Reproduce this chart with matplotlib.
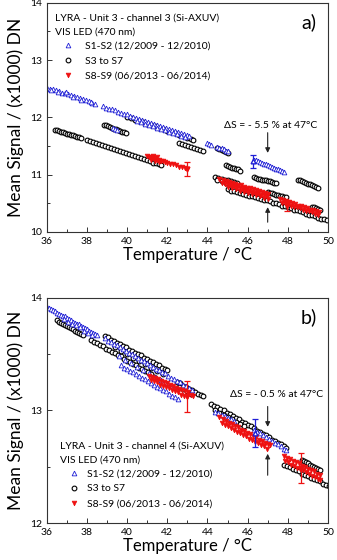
import numpy as np
import matplotlib
matplotlib.use("Agg")
import matplotlib.pyplot as plt
from matplotlib.ticker import MultipleLocator

plt.rcParams['font.family'] = ['Lato', 'DejaVu Sans']

# ---- panel a) channel 3 : (temperature, mean signal / 1000 DN) ----
a_s12 = [(36.00, 12.52), (36.15, 12.50), (36.30, 12.49), (36.45, 12.47), (36.60, 12.46), (36.75, 12.43),
         (36.90, 12.42), (37.05, 12.40), (37.20, 12.39), (37.35, 12.37), (37.50, 12.35), (37.65, 12.34),
         (37.80, 12.32), (37.95, 12.30), (38.10, 12.28), (38.25, 12.25), (38.40, 12.23),
         (36.20, 12.47), (36.55, 12.44), (36.95, 12.44), (37.30, 12.35), (37.70, 12.31), (38.20, 12.27),
         (38.80, 12.19), (38.95, 12.17), (39.10, 12.15), (39.25, 12.14), (39.40, 12.12), (39.55, 12.10),
         (39.70, 12.08), (39.85, 12.06), (40.00, 12.05), (40.15, 12.03), (40.30, 12.01), (40.45, 11.99),
         (40.60, 11.97), (40.75, 11.96), (40.90, 11.94), (41.05, 11.92), (41.20, 11.90), (41.35, 11.88),
         (41.50, 11.87), (41.65, 11.85), (41.80, 11.83), (41.95, 11.81), (42.10, 11.79), (42.25, 11.78),
         (42.40, 11.76), (42.55, 11.74), (42.70, 11.72), (42.85, 11.70), (43.00, 11.69), (43.10, 11.67),
         (40.50, 11.94), (40.70, 11.91), (40.90, 11.89), (41.10, 11.86), (41.30, 11.84), (41.50, 11.82),
         (41.70, 11.79), (41.90, 11.77), (42.10, 11.74), (42.30, 11.72), (42.50, 11.70), (42.70, 11.67),
         (42.90, 11.65),
         (39.30, 11.81), (39.40, 11.79), (39.50, 11.78),
         (44.00, 11.55), (44.10, 11.54), (44.20, 11.52), (44.50, 11.49), (44.60, 11.47), (44.70, 11.46),
         (44.80, 11.44), (44.90, 11.42), (45.00, 11.41),
         (46.30, 11.26), (46.40, 11.25), (46.50, 11.23), (46.60, 11.22), (46.70, 11.20), (46.80, 11.19),
         (46.90, 11.18), (47.00, 11.16), (47.10, 11.15), (47.20, 11.13), (47.30, 11.12), (47.40, 11.10),
         (47.50, 11.09), (47.60, 11.08), (47.70, 11.06), (47.80, 11.05)]

a_s37 = [(36.40, 11.78), (36.50, 11.77), (36.60, 11.76), (36.70, 11.75), (36.80, 11.74), (36.90, 11.73),
         (37.00, 11.71), (37.10, 11.71), (37.20, 11.69), (37.30, 11.69), (37.40, 11.67), (37.50, 11.66),
         (37.60, 11.66), (37.70, 11.64),
         (38.00, 11.61), (38.15, 11.59), (38.30, 11.57), (38.45, 11.56), (38.60, 11.54), (38.75, 11.52),
         (38.90, 11.50), (39.05, 11.49), (39.20, 11.47), (39.35, 11.45), (39.50, 11.43), (39.65, 11.41),
         (39.80, 11.39), (39.95, 11.38), (40.10, 11.36), (40.25, 11.34), (40.40, 11.32), (40.55, 11.31),
         (40.70, 11.29), (40.85, 11.27), (41.00, 11.25), (41.15, 11.23), (41.30, 11.21), (41.45, 11.20),
         (41.60, 11.18), (41.70, 11.17),
         (38.85, 11.87), (38.95, 11.86), (39.05, 11.84), (39.15, 11.83), (39.25, 11.82), (39.35, 11.80),
         (39.45, 11.79), (39.55, 11.78), (39.65, 11.76), (39.75, 11.75), (39.85, 11.74), (39.95, 11.73),
         (40.00, 12.01), (40.20, 11.98), (40.40, 11.96), (40.60, 11.93), (40.80, 11.91), (41.00, 11.89),
         (41.20, 11.86), (41.40, 11.84), (41.60, 11.81), (41.80, 11.79), (42.00, 11.76), (42.20, 11.74),
         (42.40, 11.72), (42.60, 11.69), (42.80, 11.67), (43.00, 11.64), (43.20, 11.62), (43.30, 11.61),
         (42.60, 11.56), (42.75, 11.54), (42.90, 11.52), (43.05, 11.50), (43.20, 11.48), (43.35, 11.46),
         (43.50, 11.44), (43.65, 11.43), (43.80, 11.41),
         (44.50, 11.46), (44.60, 11.44), (44.70, 11.43), (44.80, 11.41), (44.90, 11.39), (45.00, 11.38),
         (44.90, 11.16), (45.00, 11.15), (45.10, 11.14), (45.20, 11.12), (45.30, 11.11), (45.40, 11.10),
         (45.50, 11.09), (45.60, 11.07),
         (44.40, 10.96), (44.55, 10.94), (44.70, 10.93), (44.85, 10.91), (45.00, 10.90), (45.15, 10.88),
         (45.30, 10.87), (45.45, 10.85), (44.50, 10.90), (44.70, 10.88), (44.90, 10.86), (45.10, 10.84),
         (46.30, 10.95), (46.40, 10.94), (46.50, 10.93), (46.60, 10.92), (46.70, 10.91), (46.80, 10.91),
         (46.90, 10.90), (47.00, 10.89), (47.10, 10.88), (47.20, 10.87), (47.30, 10.86), (47.40, 10.85),
         (48.50, 10.91), (48.60, 10.90), (48.70, 10.88), (48.80, 10.87), (48.90, 10.85), (49.00, 10.84),
         (49.10, 10.83), (49.20, 10.81), (49.30, 10.80), (49.40, 10.78), (49.50, 10.77),
         (47.00, 10.69), (47.10, 10.68), (47.20, 10.67), (47.30, 10.66), (47.40, 10.65), (47.50, 10.64),
         (47.60, 10.63), (47.70, 10.62), (47.80, 10.61), (47.90, 10.60),
         (49.20, 10.44), (49.30, 10.43), (49.40, 10.41), (49.50, 10.40), (49.60, 10.38),
         (45.00, 10.74), (45.15, 10.72), (45.30, 10.71), (45.45, 10.69), (45.60, 10.68), (45.75, 10.66),
         (45.90, 10.65), (46.05, 10.63), (46.20, 10.62), (46.35, 10.60), (46.50, 10.59), (46.65, 10.58),
         (46.80, 10.56), (46.95, 10.55), (47.10, 10.53), (47.25, 10.51), (47.40, 10.50), (47.55, 10.48),
         (47.70, 10.46), (47.85, 10.45), (48.00, 10.43), (48.15, 10.41), (48.30, 10.39), (48.45, 10.38),
         (48.60, 10.36), (48.75, 10.34), (48.90, 10.32), (49.05, 10.30), (49.20, 10.29), (49.35, 10.27),
         (49.50, 10.25), (49.65, 10.23), (49.80, 10.22), (49.95, 10.20)]

a_s89 = [(41.00, 11.32), (41.10, 11.31), (41.20, 11.30), (41.30, 11.29), (41.40, 11.28), (41.50, 11.26),
         (41.60, 11.25), (41.70, 11.24), (41.80, 11.23), (41.90, 11.22), (42.00, 11.21), (42.15, 11.19),
         (42.30, 11.18), (42.45, 11.16), (42.60, 11.14), (42.75, 11.13), (42.90, 11.11), (43.00, 11.10),
         (41.20, 11.26), (41.40, 11.24), (41.60, 11.22), (41.30, 11.33), (41.50, 11.30),
         (44.60, 10.92), (44.75, 10.90), (44.90, 10.89), (45.05, 10.87), (45.20, 10.86), (45.35, 10.84),
         (45.50, 10.82), (45.65, 10.81), (45.80, 10.79), (45.95, 10.77), (46.10, 10.76), (46.25, 10.74),
         (46.40, 10.73), (46.55, 10.71), (46.70, 10.69), (46.85, 10.68), (47.00, 10.66),
         (44.70, 10.86), (44.85, 10.84), (45.00, 10.83), (45.15, 10.81), (45.30, 10.80), (45.45, 10.78),
         (45.60, 10.76), (45.75, 10.75), (45.90, 10.73), (46.05, 10.72), (46.20, 10.70), (46.35, 10.68),
         (46.50, 10.67), (46.65, 10.65), (46.80, 10.64), (46.95, 10.62),
         (45.00, 10.79), (45.20, 10.77), (45.40, 10.75), (45.60, 10.72), (45.80, 10.70), (46.00, 10.68),
         (46.20, 10.66), (46.40, 10.64), (46.60, 10.62), (46.80, 10.59), (47.00, 10.57),
         (47.60, 10.57), (47.75, 10.55), (47.90, 10.54), (48.05, 10.52), (48.20, 10.50), (48.35, 10.48),
         (48.50, 10.46), (48.65, 10.45), (48.80, 10.43), (48.95, 10.41), (49.10, 10.39), (49.25, 10.38),
         (49.40, 10.36), (49.55, 10.34),
         (47.70, 10.51), (47.85, 10.50), (48.00, 10.48), (48.15, 10.46), (48.30, 10.44), (48.45, 10.43),
         (48.60, 10.41), (48.75, 10.39), (48.90, 10.37), (49.05, 10.36), (49.20, 10.34), (49.35, 10.32),
         (49.50, 10.30)]

# error bars (T, S, half-width)
a_err_s12 = [(46.28, 11.23, 0.11)]
a_err_s89 = [(42.96, 11.10, 0.12), (47.94, 10.46, 0.10)]

# ---- panel b) channel 4 ----
b_s12 = [(36.00, 13.92), (36.10, 13.91), (36.20, 13.90), (36.30, 13.89), (36.40, 13.88), (36.50, 13.87),
         (36.60, 13.86), (36.70, 13.85), (36.80, 13.84), (36.90, 13.84), (37.00, 13.82), (37.10, 13.81),
         (37.20, 13.80), (37.30, 13.79), (37.40, 13.78), (37.50, 13.77), (37.60, 13.77), (37.70, 13.75),
         (37.80, 13.74), (37.90, 13.73), (38.00, 13.72), (38.10, 13.71), (38.20, 13.70), (38.30, 13.69),
         (38.40, 13.68), (38.50, 13.67),
         (36.85, 13.81), (37.05, 13.79), (37.25, 13.77), (37.45, 13.76), (37.65, 13.74), (37.85, 13.71),
         (38.05, 13.69), (38.25, 13.67),
         (38.90, 13.64), (39.05, 13.62), (39.20, 13.61), (39.35, 13.59), (39.50, 13.58), (39.65, 13.56),
         (39.80, 13.55), (39.95, 13.53), (40.10, 13.51), (40.25, 13.50), (40.40, 13.48), (40.55, 13.47),
         (40.70, 13.45), (40.85, 13.44), (41.00, 13.42), (41.15, 13.40), (41.30, 13.39), (41.45, 13.37),
         (41.60, 13.36), (41.75, 13.34), (41.90, 13.33), (42.05, 13.31), (42.20, 13.29), (42.35, 13.28),
         (42.50, 13.26), (42.65, 13.25), (42.80, 13.23), (42.95, 13.22), (43.10, 13.20), (43.25, 13.18),
         (39.70, 13.40), (39.85, 13.38), (40.00, 13.37), (40.15, 13.35), (40.30, 13.34), (40.45, 13.32),
         (40.60, 13.31), (40.75, 13.29), (40.90, 13.28), (41.05, 13.26), (41.20, 13.24), (41.35, 13.23),
         (41.50, 13.21), (41.65, 13.20), (41.80, 13.18), (41.95, 13.17), (42.10, 13.15), (42.25, 13.13),
         (42.40, 13.12), (42.55, 13.10),
         (39.60, 13.48), (39.90, 13.45), (40.20, 13.42), (40.50, 13.39), (40.80, 13.36), (41.10, 13.33),
         (41.40, 13.30), (41.70, 13.27), (42.00, 13.24), (42.30, 13.21),
         (44.40, 12.99), (44.55, 12.98), (44.70, 12.96), (44.85, 12.95), (45.00, 12.93), (45.15, 12.92),
         (45.30, 12.91),
         (46.30, 12.83), (46.45, 12.81), (46.60, 12.80), (46.75, 12.78), (46.90, 12.76), (47.05, 12.75),
         (47.20, 12.73), (47.35, 12.71), (47.50, 12.70), (47.65, 12.68), (47.80, 12.66), (47.90, 12.65)]

b_s37 = [(36.50, 13.80), (36.60, 13.79), (36.70, 13.78), (36.80, 13.77), (36.90, 13.76), (37.00, 13.75),
         (37.10, 13.74), (37.20, 13.73), (37.30, 13.72), (37.40, 13.71), (37.50, 13.70), (37.60, 13.69),
         (37.70, 13.68), (37.80, 13.67),
         (38.20, 13.63), (38.35, 13.61), (38.50, 13.60), (38.65, 13.58), (38.80, 13.57), (38.95, 13.55),
         (39.10, 13.54), (39.25, 13.52), (39.40, 13.51), (39.55, 13.49), (39.70, 13.48), (39.85, 13.46),
         (40.00, 13.44), (40.15, 13.43), (40.30, 13.41), (40.45, 13.40), (40.60, 13.38), (40.75, 13.37),
         (40.90, 13.35), (41.05, 13.34), (41.20, 13.32), (41.35, 13.30),
         (38.90, 13.66), (39.05, 13.65), (39.20, 13.63), (39.35, 13.62), (39.50, 13.60), (39.65, 13.59),
         (39.80, 13.57), (39.95, 13.56), (40.10, 13.54), (40.25, 13.53), (40.40, 13.51), (40.55, 13.50),
         (40.70, 13.49), (40.85, 13.47), (41.00, 13.46), (41.15, 13.44), (41.30, 13.43), (41.45, 13.41),
         (41.60, 13.40), (41.75, 13.38), (41.90, 13.37), (42.00, 13.36),
         (39.40, 13.56), (39.70, 13.53), (40.00, 13.50), (40.30, 13.47), (40.60, 13.44), (40.90, 13.41),
         (41.20, 13.38), (41.50, 13.35), (41.80, 13.32),
         (42.50, 13.25), (42.65, 13.24), (42.80, 13.22), (42.95, 13.21), (43.10, 13.19), (43.25, 13.18),
         (43.40, 13.16), (43.55, 13.15), (43.70, 13.14), (43.80, 13.13),
         (42.60, 13.21), (42.80, 13.19), (43.00, 13.17), (43.20, 13.15),
         (44.20, 13.06), (44.35, 13.04), (44.50, 13.03), (44.65, 13.01), (44.80, 13.00), (44.95, 12.98),
         (45.10, 12.97), (45.25, 12.95), (45.40, 12.93), (45.55, 12.92), (45.70, 12.90), (45.85, 12.89),
         (46.00, 12.87), (46.15, 12.86), (46.30, 12.84), (46.45, 12.82), (46.60, 12.81), (46.75, 12.79),
         (46.90, 12.78), (47.05, 12.76), (47.20, 12.74), (47.35, 12.73), (47.50, 12.71), (47.65, 12.70),
         (47.80, 12.68), (47.90, 12.67),
         (44.40, 13.00), (44.60, 12.98), (44.80, 12.96), (45.00, 12.94), (45.20, 12.92), (45.40, 12.90),
         (45.60, 12.88), (45.80, 12.86),
         (48.70, 12.56), (48.80, 12.55), (48.90, 12.54), (49.00, 12.53), (49.10, 12.52), (49.20, 12.51),
         (49.30, 12.50), (49.40, 12.49), (49.50, 12.48), (49.60, 12.47),
         (47.80, 12.52), (47.95, 12.51), (48.10, 12.50), (48.25, 12.48), (48.40, 12.47), (48.55, 12.46),
         (48.70, 12.44), (48.85, 12.43), (49.00, 12.42), (49.15, 12.40), (49.30, 12.39), (49.45, 12.38),
         (49.60, 12.37), (49.75, 12.35), (49.90, 12.34), (50.05, 12.33)]

b_s89 = [(41.10, 13.31), (41.25, 13.30), (41.40, 13.29), (41.55, 13.28), (41.70, 13.26), (41.85, 13.25),
         (42.00, 13.24), (42.15, 13.23), (42.30, 13.22), (42.45, 13.20), (42.60, 13.19), (42.75, 13.18),
         (42.90, 13.17), (43.05, 13.16), (43.20, 13.14), (43.30, 13.13),
         (41.20, 13.27), (41.35, 13.26), (41.50, 13.25), (41.65, 13.23), (41.80, 13.22), (41.95, 13.21),
         (42.10, 13.20), (42.25, 13.18), (42.40, 13.17), (42.55, 13.16), (42.70, 13.14), (42.85, 13.13),
         (43.00, 13.12),
         (44.60, 12.94), (44.75, 12.92), (44.90, 12.91), (45.05, 12.89), (45.20, 12.88), (45.35, 12.86),
         (45.50, 12.85), (45.65, 12.83), (45.80, 12.82), (45.95, 12.80), (46.10, 12.79), (46.25, 12.77),
         (46.40, 12.76), (46.55, 12.74), (46.70, 12.73), (46.85, 12.71), (47.00, 12.70), (47.10, 12.69),
         (44.70, 12.89), (44.85, 12.87), (45.00, 12.86), (45.15, 12.84), (45.30, 12.83), (45.45, 12.81),
         (45.60, 12.80), (45.75, 12.78), (45.90, 12.77), (46.05, 12.75), (46.20, 12.74), (46.35, 12.72),
         (46.50, 12.71), (46.65, 12.69), (46.80, 12.68), (46.95, 12.66),
         (47.80, 12.60), (47.95, 12.58), (48.10, 12.57), (48.25, 12.55), (48.40, 12.54), (48.55, 12.53),
         (48.70, 12.51), (48.85, 12.50), (49.00, 12.48), (49.15, 12.47), (49.30, 12.46), (49.45, 12.44),
         (49.60, 12.43),
         (47.85, 12.55), (48.00, 12.54), (48.15, 12.52), (48.30, 12.51), (48.45, 12.49), (48.60, 12.48),
         (48.75, 12.47), (48.90, 12.45), (49.05, 12.44), (49.20, 12.42), (49.35, 12.41), (49.50, 12.39),
         (49.60, 12.38)]

b_err_s12 = [(46.35, 12.80, 0.125)]
b_err_s89 = [(42.96, 13.125, 0.135), (48.68, 12.49, 0.13)]

labels = ["S1-S2 (12/2009 - 12/2010)", "S3 to S7", "S8-S9 (06/2013 - 06/2014)"]
BLUE, BLACK, RED = "#1f1fd6", "black", "#ee1111"


def draw_panel(ax, s12, s37, s89, err12, err89, ylim, tag, note, note_xy, arr_top, arr_bot):
    p37 = np.array(s37).T
    p12 = np.array(s12).T
    p89 = np.array(s89).T
    h2, = ax.plot(p37[0], p37[1], 'o', ms=3.4, mfc='white', mec=BLACK, mew=0.8, ls='none')
    h1, = ax.plot(p12[0], p12[1], '^', ms=3.4, mfc='white', mec=BLUE, mew=0.6, ls='none')
    h3, = ax.plot(p89[0], p89[1], 'v', ms=3.4, mfc=RED, mec=RED, mew=0.5, ls='none')
    for t, s, e in err12:
        ax.errorbar(t, s, yerr=e, fmt='^', ms=3.4, mfc='white', mec=BLUE, ecolor=BLUE,
                    elinewidth=0.9, capsize=2.5, capthick=0.9)
    for t, s, e in err89:
        ax.errorbar(t, s, yerr=e, fmt='v', ms=3.4, color=RED, ecolor=RED,
                    elinewidth=0.9, capsize=2.5, capthick=0.9)

    ax.set_xlim(36, 50)
    ax.set_ylim(*ylim)
    ax.xaxis.set_major_locator(MultipleLocator(2))
    ax.xaxis.set_minor_locator(MultipleLocator(1))
    ax.yaxis.set_major_locator(MultipleLocator(1))
    ax.yaxis.set_minor_locator(MultipleLocator(0.5))
    ax.tick_params(which='both', direction='in', labelsize=7.5, color='#333333', width=0.7)
    ax.tick_params(which='major', length=3.5)
    ax.tick_params(which='minor', length=2)
    for sp in ax.spines.values():
        sp.set_linewidth(0.8)
        sp.set_color('#333333')

    ax.set_xlabel("Temperature / °C", fontsize=12, labelpad=1)
    ax.set_ylabel("Mean Signal / (x1000) DN", fontsize=12.5, labelpad=4)

    ax.text(0.96, 0.915, tag, transform=ax.transAxes, fontsize=14, ha='right', va='center')
    ax.annotate("", xy=(47.0, arr_top[1]), xytext=(47.0, arr_top[0]),
                arrowprops=dict(arrowstyle='-|>', color='#222222', lw=0.8, mutation_scale=7))
    ax.annotate("", xy=(47.0, arr_bot[1]), xytext=(47.0, arr_bot[0]),
                arrowprops=dict(arrowstyle='-|>', color='#222222', lw=0.8, mutation_scale=7))
    ax.text(note_xy[0], note_xy[1], note, fontsize=7.5, ha='center', va='center')
    return h1, h2, h3


fig = plt.figure(figsize=(3.37, 5.6), dpi=100)
ax_a = fig.add_axes([0.139, 0.586, 0.834, 0.409])
ax_b = fig.add_axes([0.139, 0.066, 0.834, 0.402])

ha = draw_panel(ax_a, a_s12, a_s37, a_s89, a_err_s12, a_err_s89, (10, 14), "a)",
                "ΔS = - 5.5 % at 47°C", (47.15, 11.85), (11.78, 11.33), (10.12, 10.48))
hb = draw_panel(ax_b, b_s12, b_s37, b_s89, b_err_s12, b_err_s89, (12, 14), "b)",
                "ΔS = - 0.5 % at 47°C", (47.45, 13.14), (13.06, 12.83), (12.40, 12.64))

# legend blocks: (axes, handles, channel, header x, header y, legend x, legend y, text pad)
for ax, h, ch, hx, hy, lx, ly, pad in [(ax_a, ha, 3, 0.028, 0.934, 0.052, 0.83, 1.05),
                                       (ax_b, hb, 4, 0.046, 0.342, 0.074, 0.24, 0.7)]:
    ax.text(hx, hy, "LYRA - Unit 3 - channel %d (Si-AXUV)" % ch,
            transform=ax.transAxes, fontsize=7.5, va='center')
    ax.text(hx, hy - 0.064, "VIS LED (470 nm)", transform=ax.transAxes, fontsize=7.5, va='center')
    ax.legend(h, labels, loc='upper left', bbox_to_anchor=(lx, ly), frameon=False,
              fontsize=7.5, handlelength=1.2, handletextpad=pad, labelspacing=0.55,
              borderpad=0, borderaxespad=0)

fig.savefig("out.png", dpi=100)
